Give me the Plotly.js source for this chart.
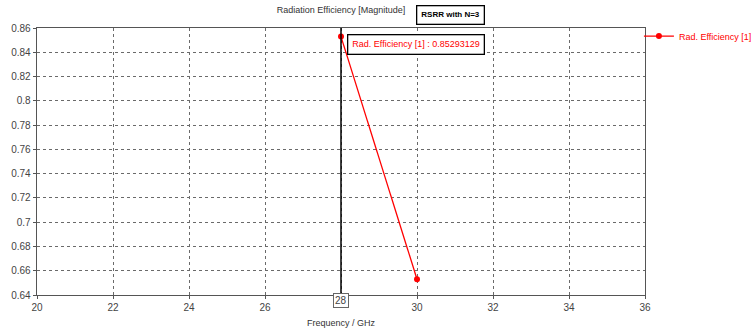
<!DOCTYPE html>
<html>
<head>
<meta charset="utf-8">
<script src="https://cdn.plot.ly/plotly-3.0.1.min.js"></script>
<style>
  html, body { margin: 0; padding: 0; background: #ffffff; }
  #chart { width: 755px; height: 333px; }
</style>
</head>
<body>
<div id="chart"></div>
<script>
// Radiation efficiency sweep
const seriesName = "Rad. Efficiency [1]";
const frequencyGHz = [28, 30];
const radEfficiency = [0.85293129, 0.653];

const markerFreq = 28;
const markerValue = 0.85293129;

const xTickVals = [20, 22, 24, 26, 28, 30, 32, 34, 36];
const xTickText = ["20", "22", "24", "26", "", "30", "32", "34", "36"];
const yTickVals = [0.64, 0.66, 0.68, 0.7, 0.72, 0.74, 0.76, 0.78, 0.8, 0.82, 0.84, 0.86];
const yTickText = ["0.64", "0.66", "0.68", "0.7", "0.72", "0.74", "0.76", "0.78", "0.8", "0.82", "0.84", "0.86"];

const FONT = "Liberation Sans, Arial, sans-serif";
const red = "#ff0000";

const trace = {
  x: frequencyGHz,
  y: radEfficiency,
  name: seriesName,
  type: "scatter",
  mode: "lines+markers",
  line: { color: red, width: 1.3 },
  marker: { color: red, size: 6 }
};

const axisCommon = {
  showline: true,
  linecolor: "#555555",
  linewidth: 1.3,
  mirror: true,
  ticks: "outside",
  ticklen: 3,
  tickcolor: "#555555",
  showgrid: true,
  gridcolor: "#6a6a6a",
  griddash: "dot",
  gridwidth: 1,
  zeroline: false,
  tickfont: { family: FONT, size: 10, color: "#444444" }
};

const layout = {
  width: 755,
  height: 333,
  margin: { l: 37, r: 110, t: 28, b: 38, autoexpand: false },
  paper_bgcolor: "#ffffff",
  plot_bgcolor: "#ffffff",
  showlegend: true,
  legend: {
    x: 0.99, y: 1.024, xanchor: "left", yanchor: "top",
    font: { family: FONT, size: 9, color: red },
    bgcolor: "rgba(0,0,0,0)",
    itemwidth: 30
  },
  title: {
    text: "Radiation Efficiency [Magnitude]",
    font: { family: FONT, size: 9, color: "#333333" },
    x: 0.5, xref: "paper", xanchor: "center",
    y: 1, yref: "container", yanchor: "top", pad: { t: 7 }
  },
  xaxis: Object.assign({}, axisCommon, {
    range: [20, 36],
    tickmode: "array",
    tickvals: xTickVals,
    ticktext: xTickText,
    title: {
      text: "Frequency / GHz",
      font: { family: FONT, size: 9, color: "#333333" },
      standoff: 7
    }
  }),
  yaxis: Object.assign({}, axisCommon, {
    range: [0.64, 0.86],
    tickmode: "array",
    tickvals: yTickVals,
    ticktext: yTickText
  }),
  shapes: [
    {
      type: "line", xref: "x", yref: "paper",
      x0: markerFreq, x1: markerFreq, y0: 0, y1: 1,
      line: { color: "#000000", width: 1.5 }
    }
  ],
  annotations: [
    {
      // boxed tick label at the marker frequency
      xref: "x", yref: "paper", x: markerFreq, y: 0,
      yshift: -13, text: String(markerFreq), showarrow: false,
      font: { family: FONT, size: 10, color: "#444444" },
      bordercolor: "#666666", borderwidth: 1, borderpad: 1,
      bgcolor: "#ffffff"
    },
    {
      // marker readout
      xref: "x", yref: "y", x: markerFreq, y: markerValue,
      xanchor: "left", yanchor: "top", xshift: 6, yshift: 3,
      text: seriesName + " : " + markerValue.toFixed(8),
      showarrow: false,
      font: { family: FONT, size: 9, color: red },
      bordercolor: "#000000", borderwidth: 1.3, borderpad: 4,
      bgcolor: "#ffffff"
    },
    {
      xref: "paper", yref: "paper", x: 0.623, y: 1, yshift: 13,
      xanchor: "left", yanchor: "middle",
      text: "<b>RSRR with N=3</b>", showarrow: false,
      font: { family: FONT, size: 8, color: "#000000" },
      bordercolor: "#000000", borderwidth: 1.3, borderpad: 4,
      bgcolor: "#ffffff"
    }
  ]
};

Plotly.newPlot("chart", [trace], layout, { displayModeBar: false, staticPlot: true });
</script>
</body>
</html>
